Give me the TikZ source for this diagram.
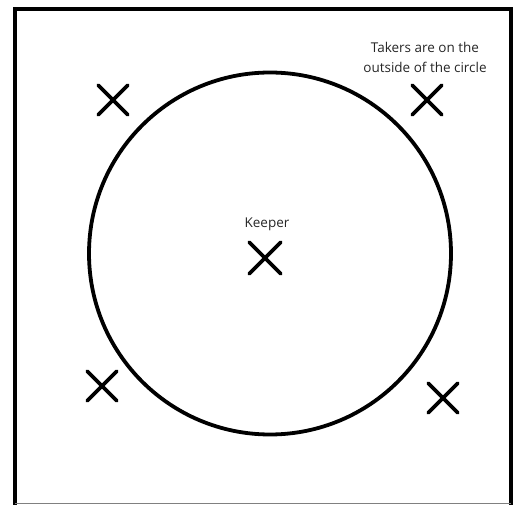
\documentclass[tikz,border=0pt]{standalone}
\usepackage{fontspec}
\setmainfont{Open Sans}
\usetikzlibrary{shapes.misc}
\tikzset{
  frame/.style={line width=4.5pt},
  ring/.style={line width=3.8pt},
  player/.style={cross out, draw, line width=3.8pt, line cap=round,
                 minimum size=26pt, inner sep=0pt},
  keeperx/.style={player, minimum size=28pt},
  lbl/.style={font=\fontsize{13.5}{20}\selectfont, text=black!85, align=center},
}
\begin{document}
\begin{tikzpicture}[x=1pt, y=-1pt]
    \useasboundingbox (0,0) rectangle (515,505);
    % field
    \draw[frame] (15,505) -- (15,9) -- (511,9) -- (511,505);
    \draw[gray, line width=0.8pt] (15,503.5) -- (511,503.5);
    \draw[ring] (270,253.5) circle (181);
    % players
    \node[keeperx] (keeper) at (265,258) {};
    \node[lbl] (klbl) at (267,224) {Keeper};
    \node[player] (tl) at (113,100) {};
    \node[player] (tr) at (427,100) {};
    \node[player] (bl) at (102,386) {};
    \node[player] (br) at (443,398) {};
    \node[lbl] (tlbl) at (425,57) {Takers are on the\\outside of the circle};
\end{tikzpicture}
\end{document}
